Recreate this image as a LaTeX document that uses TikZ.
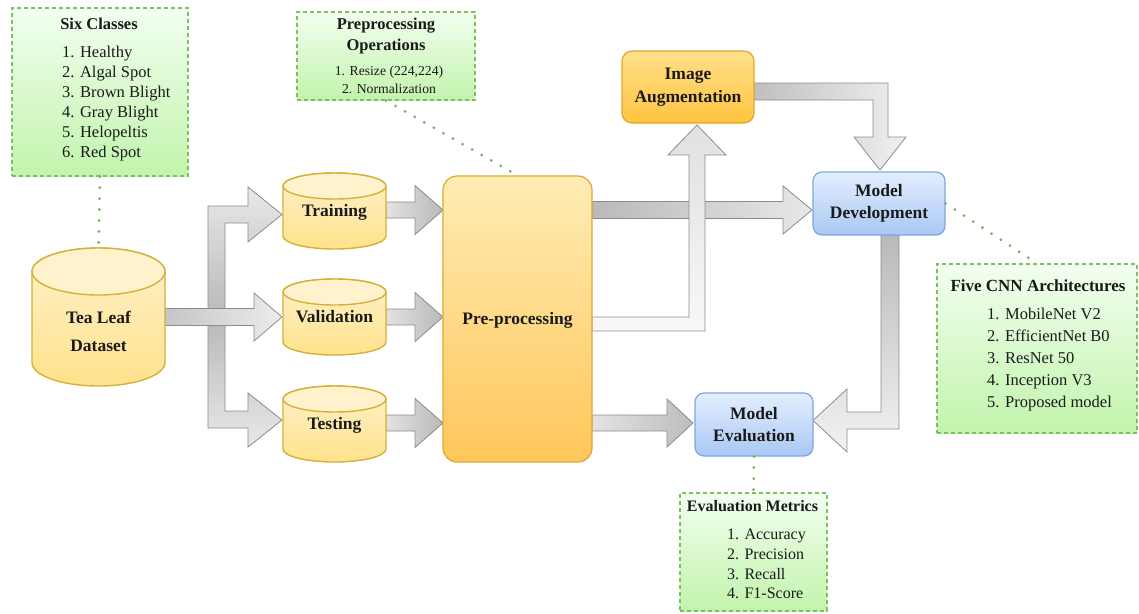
\documentclass[tikz,border=0pt]{standalone}
\usepackage{fontspec}
\setmainfont{Liberation Serif}
\definecolor{txt}{HTML}{1A1A1A}
\definecolor{gline}{HTML}{7DBF63}
\definecolor{gdot}{HTML}{6DB052}
\definecolor{gtop}{HTML}{F2FFF0}
\definecolor{gbot}{HTML}{C2F4AC}
\definecolor{ytop}{HTML}{FFF2CC}
\definecolor{ybot}{HTML}{FFE28C}
\definecolor{yline}{HTML}{D6B038}
\definecolor{otop}{HTML}{FFEDB5}
\definecolor{obot}{HTML}{FFC65A}
\definecolor{oline}{HTML}{E0A830}
\definecolor{iatop}{HTML}{FFE08A}
\definecolor{iabot}{HTML}{FFC43F}
\definecolor{btop}{HTML}{E4EEFF}
\definecolor{bbot}{HTML}{A9C8F3}
\definecolor{bline}{HTML}{7EA6E0}
\definecolor{aline}{HTML}{8C8C8C}
\newcommand\mycyl[5]{% cx, top, bottom, rx, ry
  \path[cylbody] (#1-#4, #2+#5) -- (#1-#4, #3-#5)
     arc[start angle=180, end angle=360, x radius=#4pt, y radius=#5pt]
     -- (#1+#4, #2+#5)
     arc[start angle=0, end angle=180, x radius=#4pt, y radius=#5pt] -- cycle;
  \path[cyltop] (#1, #2+#5) ellipse[x radius=#4pt, y radius=#5pt];
}
\begin{document}
\begin{tikzpicture}[x=1pt,y=-1pt,
  lbl/.style={font=\fontsize{17.5}{22.5}\selectfont\bfseries, text=txt, align=center, inner sep=0pt},
  ttl/.style={font=\fontsize{16.5}{21}\selectfont\bfseries, text=txt, align=center, inner sep=0pt},
  items/.style={font=\fontsize{16.5}{20}\selectfont, text=txt, align=left, inner sep=0pt, anchor=west},
  greenbox/.style={draw=gline, dashed, dash pattern=on 4pt off 3pt, line width=1.1pt, top color=gtop, bottom color=gbot, inner sep=0pt},
  dotline/.style={draw=gdot, line width=3pt, line cap=round, dash pattern=on 0pt off 11pt},
  cylbody/.style={draw=yline, line width=1.4pt, top color=ytop, bottom color=ybot},
  cyltop/.style={draw=yline, line width=1.4pt, fill=ytop},
  blk/.style={draw=aline, line width=0.8pt},
  orangebox/.style={draw=oline, line width=1.2pt, rounded corners=14pt, top color=otop, bottom color=obot, inner sep=0pt},
  iabox/.style={draw=oline, line width=1.2pt, rounded corners=10pt, top color=iatop, bottom color=iabot, inner sep=0pt},
  bluebox/.style={draw=bline, line width=1.2pt, rounded corners=9pt, top color=btop, bottom color=bbot, inner sep=0pt}
]
\useasboundingbox (0,0) rectangle (1139,613);

% ---------- block arrows ----------
% dataset -> training / testing (bracket)
\path[blk, top color=gray!18, bottom color=gray!18, middle color=gray!55]
  (208,206) -- (248,206) -- (248,187) -- (282,214.5) -- (248,242) -- (248,223)
  -- (225,223) -- (225,411) -- (248,411) -- (248,393) -- (282,420) -- (248,447)
  -- (248,428) -- (208,428) -- cycle;
% dataset -> validation
\path[blk, left color=gray!45, right color=gray!15]
  (165,308.5) -- (254,308.5) -- (254,293) -- (282,317) -- (254,341) -- (254,325.5)
  -- (165,325.5) -- cycle;
% cylinders -> pre-processing
\foreach \yy in {210,317,423}{
  \path[blk, left color=gray!22, right color=gray!55]
    (386,\yy-8) -- (415,\yy-8) -- (415,\yy-24.5) -- (443,\yy) -- (415,\yy+24.5)
    -- (415,\yy+8) -- (386,\yy+8) -- cycle;
}
% pre-processing -> model development
\path[blk, left color=gray!55, right color=gray!18]
  (592,201.5) -- (783,201.5) -- (783,186) -- (812,210) -- (783,234) -- (783,218.5)
  -- (592,218.5) -- cycle;
% pre-processing -> image augmentation
\path[blk, bottom color=gray!6, top color=gray!24]
  (592,317) -- (689,317) -- (689,155) -- (668,155) -- (697,125) -- (726,155)
  -- (705,155) -- (705,331) -- (592,331) -- cycle;
% image augmentation -> model development
\path[blk, left color=gray!50, right color=gray!12]
  (754,83) -- (888,83) -- (888,137) -- (906,137) -- (880,170) -- (854,137)
  -- (873,137) -- (873,100) -- (754,100) -- cycle;
% model development -> model evaluation
\path[blk, top color=gray!55, bottom color=gray!10]
  (881,235) -- (899,235) -- (899,429) -- (847,429) -- (847,452) -- (813,420.5)
  -- (847,389) -- (847,412) -- (881,412) -- cycle;
% pre-processing -> model evaluation
\path[blk, left color=gray!22, right color=gray!52]
  (592,415) -- (667,415) -- (667,399) -- (693,423) -- (667,447) -- (667,431)
  -- (592,431) -- cycle;

% ---------- cylinders ----------
\mycyl{98.5}{248}{386}{66.5}{23.5}
\mycyl{334.5}{173}{249}{51.5}{13}
\mycyl{334.5}{279}{355}{51.5}{13}
\mycyl{334.5}{386}{462}{51.5}{13}
\coordinate (teatop) at (98.5,248);
\node[lbl, font=\fontsize{17.5}{28}\selectfont\bfseries] (tea) at (98.5,331) {Tea Leaf\\Dataset};
\node[lbl] (train) at (334.5,212) {Training};
\node[lbl] (val) at (334.5,317) {Validation};
\node[lbl] (test) at (334.5,425) {Testing};

% ---------- process boxes ----------
\node[orangebox, minimum width=149pt, minimum height=286pt] (pre) at (517.5,319) {};
\node[lbl] (pretxt) at (517.5,320) {Pre-processing};
\node[iabox, minimum width=132pt, minimum height=72pt, lbl] (ia) at (688,87) {Image\\Augmentation};
\node[bluebox, minimum width=132pt, minimum height=63pt, lbl] (md) at (879,203.5) {Model\\Development};
\node[bluebox, minimum width=118pt, minimum height=63pt, lbl] (me) at (754,424.5) {Model\\Evaluation};

% ---------- annotation boxes ----------
\node[greenbox, minimum width=176pt, minimum height=168pt] (six) at (100,92) {};
\node[ttl] (sixt) at (99,24) {Six Classes};
\node[items] (sixi) at (62,103.5) {1. Healthy\\2. Algal Spot\\3. Brown Blight\\4. Gray Blight\\5. Helopeltis\\6. Red Spot};

\node[greenbox, minimum width=178pt, minimum height=88pt] (preops) at (386,56) {};
\node[ttl] (preopst) at (386,36.5) {Preprocessing\\Operations};
\node[ttl, font=\fontsize{13.7}{18}\selectfont] (preopsi) at (389,79.5) {1. Resize (224,224)\\2. Normalization};

\node[greenbox, minimum width=200pt, minimum height=169pt] (five) at (1037,348.5) {};
\node[ttl, font=\fontsize{17}{21}\selectfont\bfseries] (fivet) at (1038,286) {Five CNN Architectures};
\node[items, font=\fontsize{16.5}{22}\selectfont] (fivei) at (987,360) {1. MobileNet V2\\2. EfficientNet B0\\3. ResNet 50\\4. Inception V3\\5. Proposed model};

\node[greenbox, minimum width=147pt, minimum height=118pt] (eval) at (753.5,552) {};
\node[ttl, font=\fontsize{16}{20}\selectfont\bfseries] (evalt) at (752.5,506) {Evaluation Metrics};
\node[items, font=\fontsize{16}{19.7}\selectfont] (evali) at (727,564) {1. Accuracy\\2. Precision\\3. Recall\\4. F1-Score};

% ---------- dotted links ----------
\draw[dotline] (six.south) -- (teatop);
\draw[dotline] (preops.south) -- (pre.north);
\draw[dotline] (md.east) -- (five.north);
\draw[dotline] (me.south) -- (eval.north);
\end{tikzpicture}
\end{document}
